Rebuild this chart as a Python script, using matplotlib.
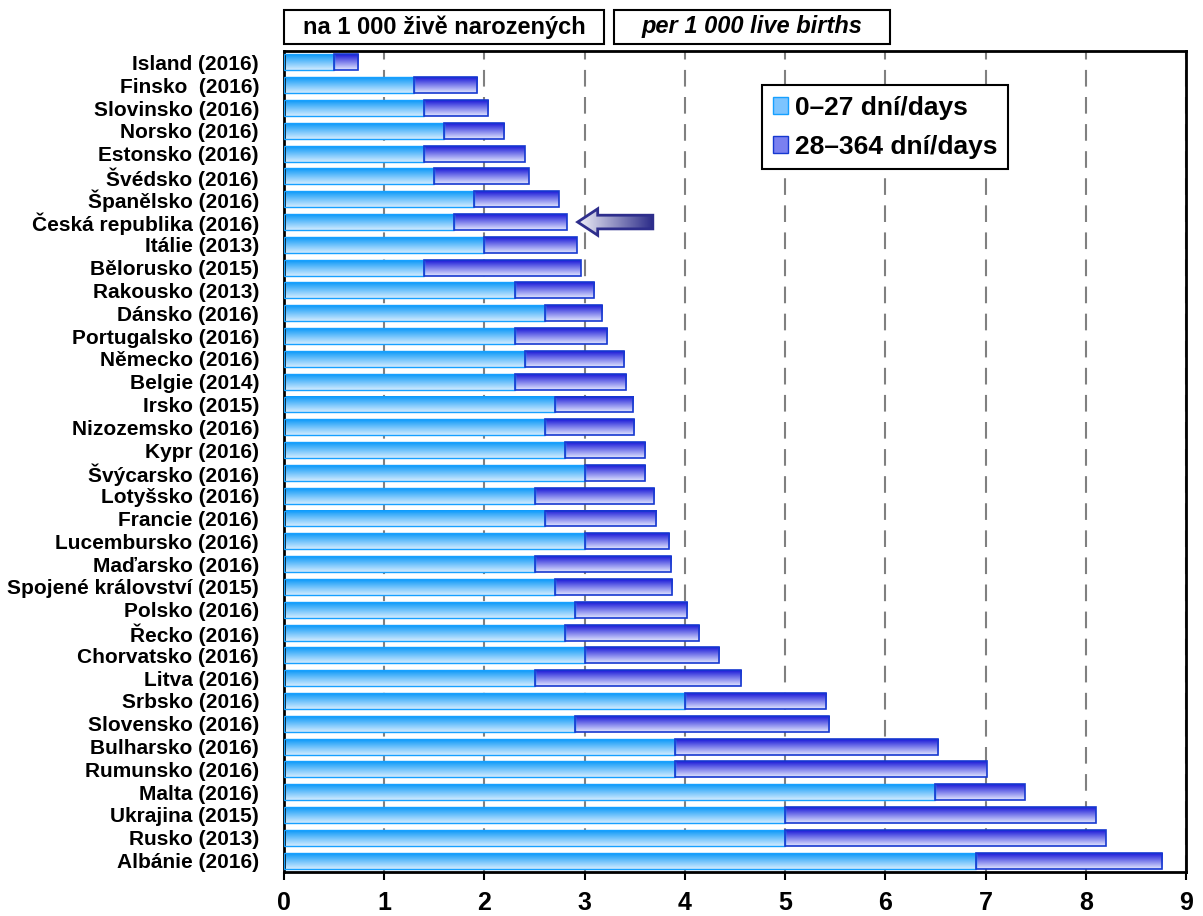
import numpy as np
import matplotlib
matplotlib.use("Agg")
import matplotlib.pyplot as plt
from matplotlib.patches import Patch, Rectangle, Polygon
from matplotlib.colors import to_rgb

plt.rcParams['font.family'] = ['Liberation Sans', 'DejaVu Sans']

# data: neonatal (0-27 days) and post-neonatal (28-364 days) infant mortality
countries = ["Island (2016)", "Finsko  (2016)", "Slovinsko (2016)", "Norsko (2016)",
             "Estonsko (2016)", "Švédsko (2016)", "Španělsko (2016)", "Česká republika (2016)",
             "Itálie (2013)", "Bělorusko (2015)", "Rakousko (2013)", "Dánsko (2016)",
             "Portugalsko (2016)", "Německo (2016)", "Belgie (2014)", "Irsko (2015)",
             "Nizozemsko (2016)", "Kypr (2016)", "Švýcarsko (2016)", "Lotyšsko (2016)",
             "Francie (2016)", "Lucembursko (2016)", "Maďarsko (2016)", "Spojené království (2015)",
             "Polsko (2016)", "Řecko (2016)", "Chorvatsko (2016)", "Litva (2016)",
             "Srbsko (2016)", "Slovensko (2016)", "Bulharsko (2016)", "Rumunsko (2016)",
             "Malta (2016)", "Ukrajina (2015)", "Rusko (2013)", "Albánie (2016)"]
neonatal = [0.5, 1.3, 1.4, 1.6, 1.4, 1.5, 1.9, 1.7, 2.0, 1.4, 2.3, 2.6,
            2.3, 2.4, 2.3, 2.7, 2.6, 2.8, 3.0, 2.5, 2.6, 3.0, 2.5, 2.7,
            2.9, 2.8, 3.0, 2.5, 4.0, 2.9, 3.9, 3.9, 6.5, 5.0, 5.0, 6.9]
total = [0.74, 1.93, 2.04, 2.2, 2.4, 2.44, 2.74, 2.82, 2.92, 2.96, 3.09, 3.17,
         3.22, 3.39, 3.41, 3.48, 3.49, 3.6, 3.6, 3.69, 3.71, 3.84, 3.86, 3.87,
         4.02, 4.14, 4.34, 4.56, 5.41, 5.44, 6.53, 7.01, 7.39, 8.1, 8.2, 8.76]
postneonatal = [t - n for t, n in zip(total, neonatal)]
legend_labels = ["0–27 dní/days", "28–364 dní/days"]
highlight = "Česká republika (2016)"

c1_top, c1_bot, c1_edge = "#0a98f8", "#d4ecff", "#16a0ff"
c2_top, c2_bot, c2_edge = "#1a1ad8", "#e2e6ff", "#1638d0"


def grad(top, bot, n=64):
    a = np.array(to_rgb(top))
    b = np.array(to_rgb(bot))
    t = np.linspace(0, 1, n)[:, None]
    return (a * (1 - t) + b * t)[:, None, :]


fig = plt.figure(figsize=(12.03, 9.16), dpi=100)
ax = fig.add_axes([284 / 1203, 44 / 916, 902 / 1203, 821 / 916])

y = np.arange(len(countries))
h = 0.7
b1 = ax.barh(y, neonatal, height=h, color="none", edgecolor=c1_edge, linewidth=1.0, zorder=3)
b2 = ax.barh(y, postneonatal, left=neonatal, height=h, color="none", edgecolor=c2_edge,
             linewidth=1.2, zorder=4)

g1 = grad(c1_top, c1_bot)
g2 = grad(c2_top, c2_bot)
for bars, g, z in ((b1, g1, 2), (b2, g2, 2.5)):
    for p in bars:
        x0, yy = p.get_x(), p.get_y()
        w, hh = p.get_width(), p.get_height()
        ax.imshow(g, extent=(x0, x0 + w, yy + hh, yy), origin="upper",
                  aspect="auto", zorder=z, interpolation="bilinear")

ax.set_xlim(0, 9)
ax.set_ylim(len(countries) - 0.5, -0.5)
ax.set_xticks(range(10))
ax.set_yticks(y)
ax.set_yticklabels(countries, fontsize=15, fontweight="bold")
for lab in ax.get_xticklabels():
    lab.set_fontsize(18)
    lab.set_fontweight("bold")
ax.tick_params(axis="y", length=0, pad=18)
ax.tick_params(axis="x", length=6, width=1.5, pad=8)
ax.xaxis.grid(True, color="#808080", linestyle=(0, (8, 5)), linewidth=1.5, zorder=0)
ax.set_axisbelow(True)
for s in ax.spines.values():
    s.set_linewidth(2)
    s.set_color("black")

# arrow pointing at the Czech Republic
iy = countries.index(highlight)
ax_tail, ax_head = 3.68, 2.93
hw, sw, hl = 0.58, 0.3, 0.2
pts = [(ax_head, iy), (ax_head + hl, iy - hw), (ax_head + hl, iy - sw), (ax_tail, iy - sw),
       (ax_tail, iy + sw), (ax_head + hl, iy + sw), (ax_head + hl, iy + hw)]
arrow = Polygon(pts, closed=True, facecolor="none", edgecolor="#2e2e8c", linewidth=2, zorder=6)
ax.add_patch(arrow)
ag = np.linspace(0, 1, 64)[None, :, None]
ag = np.array(to_rgb("#f0f0f8")) * (1 - ag) + np.array(to_rgb("#2a2a88")) * ag
im = ax.imshow(ag, extent=(ax_head, ax_tail, iy + hw, iy - hw), origin="upper",
               aspect="auto", zorder=5, interpolation="bilinear")
im.set_clip_path(arrow)
ax.set_xlim(0, 9)
ax.set_ylim(len(countries) - 0.5, -0.5)

handles = [Patch(facecolor="#7cc4ff", edgecolor=c1_edge, label=legend_labels[0]),
           Patch(facecolor="#7a80f0", edgecolor=c2_edge, label=legend_labels[1])]
leg = ax.legend(handles=handles, loc="upper left", bbox_to_anchor=(0.53, 0.958),
                fancybox=False, edgecolor="black", framealpha=1,
                prop={"size": 19, "weight": "bold"}, handlelength=0.6, handleheight=0.6,
                handletextpad=0.25, labelspacing=0.55, borderpad=0.4, borderaxespad=0)
leg.get_frame().set_linewidth(1.5)
leg.set_zorder(10)

# header boxes
for (x0, x1), txt, style in (((284, 604), "na 1 000 živě narozených", "normal"),
                             ((614, 890), "per 1 000 live births", "italic")):
    fig.patches.append(Rectangle((x0 / 1203, 1 - 44 / 916), (x1 - x0) / 1203, 34 / 916,
                                 transform=fig.transFigure, facecolor="white",
                                 edgecolor="black", linewidth=1.5))
    fig.text((x0 + x1) / 2 / 1203, 1 - 27 / 916, txt, ha="center", va="center",
             fontsize=17, fontweight="bold", fontstyle=style)

fig.savefig("out.png", dpi=100)
